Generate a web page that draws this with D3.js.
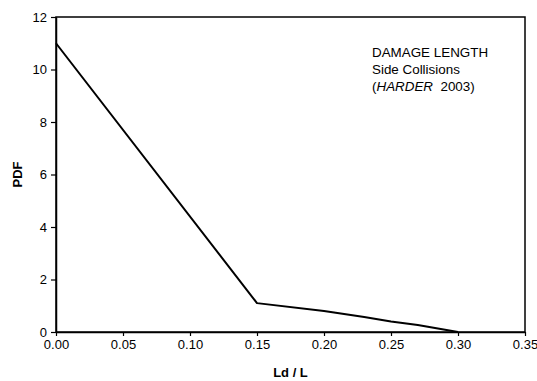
<!DOCTYPE html>
<html><head><meta charset="utf-8">
<script src="https://cdn.jsdelivr.net/npm/d3@7"></script>
<style>body{margin:0;background:#fff}svg{display:block}text{font-family:"Liberation Sans",Arial,sans-serif;fill:#000}</style>
</head><body>
<script>
const xValues = [0.00, 0.15, 0.20, 0.23, 0.25, 0.27, 0.30];
const pdfValues = [11.0, 1.1, 0.80, 0.57, 0.40, 0.27, 0.0];
const xTicks = [0, 0.05, 0.10, 0.15, 0.20, 0.25, 0.30, 0.35];
const yTicks = [0, 2, 4, 6, 8, 10, 12];
const xTitle = "Ld / L";
const yTitle = "PDF";

const W = 537, H = 381;
const m = {left: 56, right: 12, top: 17, bottom: 49};
const svg = d3.select("body").append("svg").attr("width", W).attr("height", H);
const x = d3.scaleLinear().domain([0, 0.35]).range([m.left, W - m.right]);
const y = d3.scaleLinear().domain([0, 12]).range([H - m.bottom, m.top]);

// frame
svg.append("rect").attr("x", x(0)).attr("y", y(12)).attr("width", x(0.35) - x(0)).attr("height", y(0) - y(12))
  .attr("fill", "none").attr("stroke", "#000").attr("stroke-width", 1.5);

const xa = svg.append("g").attr("transform", `translate(0,${y(0)})`)
  .call(d3.axisBottom(x).tickValues(xTicks).tickFormat(d3.format(".2f")).tickSizeInner(4).tickSizeOuter(0).tickPadding(4));
const ya = svg.append("g").attr("transform", `translate(${x(0)},0)`)
  .call(d3.axisLeft(y).tickValues(yTicks).tickFormat(d3.format("d")).tickSizeInner(5).tickSizeOuter(0).tickPadding(4));
[xa, ya].forEach(a => {
  a.select(".domain").attr("stroke", "#000").attr("stroke-width", 1.5);
  a.selectAll(".tick line").attr("stroke", "#000").attr("stroke-width", 1.2);
  a.selectAll("text").attr("font-size", 13).attr("font-family", '"Liberation Sans",Arial,sans-serif').attr("fill", "#000");
});

const line = d3.line().x((d, i) => x(xValues[i])).y(d => y(d));
svg.append("path").datum(pdfValues).attr("d", line).attr("fill", "none").attr("stroke", "#000").attr("stroke-width", 2).attr("stroke-linejoin", "round");

svg.append("text").attr("x", (x(0) + x(0.35)) / 2).attr("y", 377).attr("text-anchor", "middle")
  .attr("font-size", 13).attr("font-weight", "bold").text(xTitle);
svg.append("text").attr("transform", `translate(22,${(y(0) + y(12)) / 2}) rotate(-90)`).attr("text-anchor", "middle")
  .attr("font-size", 13).attr("font-weight", "bold").text(yTitle);

const ann = svg.append("text").attr("font-size", 13.4);
ann.append("tspan").attr("x", 372).attr("y", 57).text("DAMAGE LENGTH");
ann.append("tspan").attr("x", 372).attr("y", 74).text("Side Collisions");
const l3 = ann.append("tspan").attr("x", 372).attr("y", 91);
l3.append("tspan").text("(");
l3.append("tspan").attr("font-style", "italic").text("HARDER");
l3.append("tspan").text("  2003)").attr("xml:space", "preserve").style("white-space", "pre");
</script>
</body></html>
